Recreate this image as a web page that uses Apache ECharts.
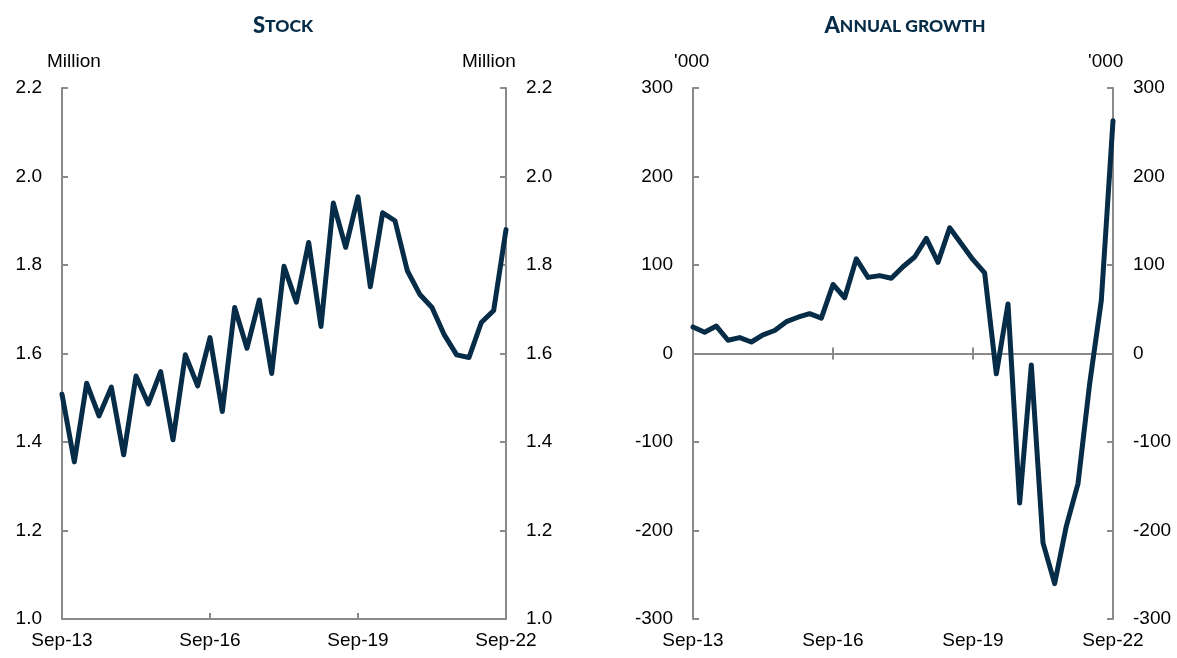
<!DOCTYPE html>
<html>
<head>
<meta charset="utf-8">
<script src="https://cdn.jsdelivr.net/npm/echarts@6/dist/echarts.min.js"></script>
<style>
html, body { margin: 0; padding: 0; background: #fff; }
#main { width: 1177px; height: 658px; }
</style>
</head>
<body>
<div id="main"></div>
<script>
// quarterly, Sep-13 .. Sep-22
var quarters = ['Sep-13','Dec-13','Mar-14','Jun-14','Sep-14','Dec-14','Mar-15','Jun-15',
  'Sep-15','Dec-15','Mar-16','Jun-16','Sep-16','Dec-16','Mar-17','Jun-17',
  'Sep-17','Dec-17','Mar-18','Jun-18','Sep-18','Dec-18','Mar-19','Jun-19',
  'Sep-19','Dec-19','Mar-20','Jun-20','Sep-20','Dec-20','Mar-21','Jun-21',
  'Sep-21','Dec-21','Mar-22','Jun-22','Sep-22'];

// stock, million
var stock = [1.508,1.355,1.533,1.459,1.524,1.371,1.549,1.486,
  1.559,1.405,1.597,1.527,1.636,1.469,1.704,1.612,
  1.721,1.555,1.797,1.716,1.851,1.661,1.940,1.840,
  1.954,1.751,1.918,1.900,1.787,1.734,1.704,1.642,
  1.597,1.591,1.670,1.697,1.880];

// annual growth, '000
var growth = [30,24,31,15,18,13,21,26,
  36,41,45,40,78,63,107,86,
  88,85,98,109,130,103,142,124,
  106,91,-23,56,-169,-13,-214,-260,
  -195,-147,-34,60,263];

var stockRange = [1.0, 2.2, 0.2];
var growthRange = [-300, 300, 100];

var navy = '#062c47';
var grey = '#8a8a8a';
var font = 'Liberation Sans, Arial, sans-serif';

var myChart = echarts.init(document.getElementById('main'));

function yAxisFor(gridIndex, pos, range, digits) {
    return {
        type: 'value',
        gridIndex: gridIndex,
        position: pos,
        min: range[0],
        max: range[1],
        interval: range[2],
        splitLine: {show: false},
        axisLine: {show: true, onZero: false, lineStyle: {color: grey, width: 2}},
        axisTick: {show: true, inside: true, length: 6, lineStyle: {color: grey, width: 2}},
        axisLabel: {
            color: '#000', fontFamily: font, fontSize: 19, margin: 20,
            formatter: function (v) { return v.toFixed(digits); }
        }
    };
}

function xAxisFor(gridIndex, opts) {
    var ax = {
        type: 'category',
        gridIndex: gridIndex,
        position: 'bottom',
        data: quarters,
        boundaryGap: false,
        splitLine: {show: false},
        axisLine: {show: true, onZero: false, lineStyle: {color: grey, width: 2}},
        axisTick: {show: true, inside: true, interval: 11, length: 6, lineStyle: {color: grey, width: 2}},
        axisLabel: {show: true, interval: 11, color: '#000', fontFamily: font, fontSize: 19, margin: 12}
    };
    for (var k in opts) ax[k] = Object.assign({}, ax[k], opts[k]);
    return ax;
}

function titleText(big, small, x) {
    return {
        text: '{a|' + big + '}{b|' + small + '}',
        left: x,
        top: 10,
        textAlign: 'center',
        textStyle: {
            rich: {
                a: {fontFamily: 'Lato, sans-serif', fontWeight: 900, fontSize: 22, color: navy},
                b: {fontFamily: 'Lato, sans-serif', fontWeight: 900, fontSize: 17.5, color: navy}
            }
        }
    };
}

var option = {
    animation: false,
    backgroundColor: '#fff',
    title: [
        titleText('S', 'TOCK', 278),
        titleText('A', 'NNUAL GROWTH', 900)
    ],
    grid: [
        {left: 62, top: 88, width: 444, height: 531, outerBoundsMode: 'none'},
        {left: 693, top: 88, width: 420, height: 531, outerBoundsMode: 'none'}
    ],
    xAxis: [
        // stock panel
        xAxisFor(0, {}),
        // growth panel: labels at bottom
        xAxisFor(1, {axisLine: {show: false}, axisTick: {show: false}}),
        // growth panel: zero line, ticks up
        xAxisFor(1, {axisLine: {onZero: true}, axisLabel: {show: false}}),
        // growth panel: zero line, ticks down
        xAxisFor(1, {axisLine: {onZero: true}, axisTick: {inside: false}, axisLabel: {show: false}})
    ],
    yAxis: [
        yAxisFor(0, 'left', stockRange, 1),
        yAxisFor(0, 'right', stockRange, 1),
        yAxisFor(1, 'left', growthRange, 0),
        yAxisFor(1, 'right', growthRange, 0)
    ],
    graphic: [
        {type: 'text', left: 47, top: 52, style: {text: 'Million', fontFamily: font, fontSize: 19, fill: '#000'}},
        {type: 'text', left: 462, top: 52, style: {text: 'Million', fontFamily: font, fontSize: 19, fill: '#000'}},
        {type: 'text', left: 674, top: 52, style: {text: "'000", fontFamily: font, fontSize: 19, fill: '#000'}},
        {type: 'text', left: 1088, top: 52, style: {text: "'000", fontFamily: font, fontSize: 19, fill: '#000'}}
    ],
    series: [
        {
            name: 'Stock', type: 'line', xAxisIndex: 0, yAxisIndex: 0,
            data: stock, showSymbol: false, symbol: 'none',
            lineStyle: {color: navy, width: 5, join: 'round', cap: 'round'}
        },
        {
            name: 'Annual growth', type: 'line', xAxisIndex: 1, yAxisIndex: 2,
            data: growth, showSymbol: false, symbol: 'none',
            lineStyle: {color: navy, width: 5, join: 'round', cap: 'round'}
        }
    ]
};

myChart.setOption(option);
</script>
</body>
</html>
